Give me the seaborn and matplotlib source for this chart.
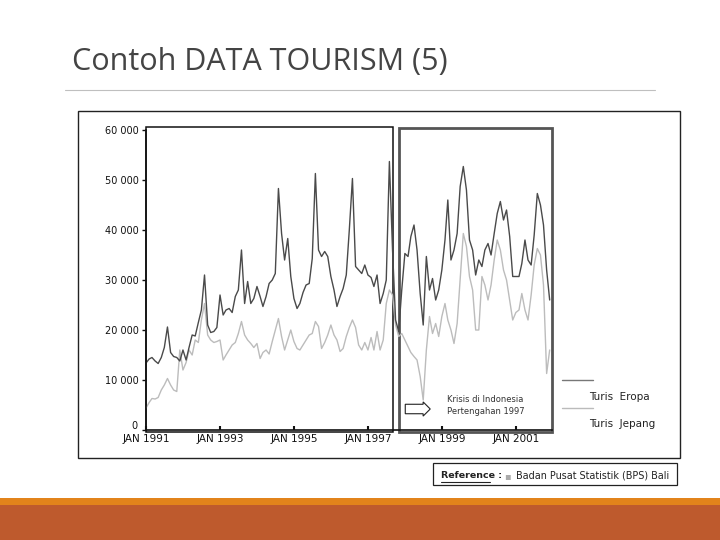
"""Slide: Contoh DATA TOURISM (5) - monthly tourist arrivals in Bali, Europe vs Japan."""
import numpy as np
import pandas as pd
import matplotlib.pyplot as plt
import matplotlib.transforms as mtransforms
from matplotlib.patches import Rectangle
from matplotlib.lines import Line2D
import seaborn as sns

# monthly values, Jan 1991 .. Dec 2001
eropa = [
    # 1991
    13400, 14200, 14500, 13800, 13300, 14500, 16500, 20600, 15500, 14700, 14500, 13800,
    # 1992
    16000, 14000, 16500, 19000, 18800, 21500, 24000, 31000, 21000, 19500, 19700, 20500,
    # 1993
    27000, 23000, 24000, 24300, 23500, 26700, 28000, 36000, 25300, 29700, 25300, 26300,
    # 1994
    28700, 26700, 24700, 26700, 29300, 30000, 31300, 48300, 39300, 34000, 38300, 30700,
    # 1995
    26300, 24300, 25300, 27500, 29000, 29300, 34300, 51300, 36000, 34700, 35700, 34700,
    # 1996
    30700, 28000, 24700, 26700, 28300, 31000, 40000, 50300, 32700, 32000, 31300, 33000,
    # 1997
    31000, 30500, 28700, 31000, 25300, 27300, 30000, 53700, 36000, 22000, 19700, 28000,
    # 1998
    35300, 34700, 38700, 41000, 36000, 27300, 21000, 34700, 28000, 30300, 26000, 28000,
    # 1999
    32000, 38000, 46000, 34000, 36000, 39300, 48700, 52700, 48000, 38000, 36000, 31000,
    # 2000
    34000, 32700, 36000, 37300, 35000, 39300, 43300, 45700, 42000, 44000, 38700, 30700,
    # 2001
    30700, 30700, 33300, 38000, 34000, 33000, 39000, 47300, 45000, 41000, 32000, 26000,
]
jepang = [
    # 1991
    4400, 5500, 6300, 6200, 6500, 8000, 9000, 10300, 9000, 8000, 7700, 16000,
    # 1992
    12000, 13500, 16000, 15000, 18000, 17500, 22000, 25300, 19000, 18000, 17500, 17700,
    # 1993
    18000, 14000, 15000, 16000, 17000, 17500, 19300, 21700, 19000, 18000, 17300, 16500,
    # 1994
    17300, 14300, 15500, 16000, 15200, 17700, 20000, 22300, 18700, 16000, 18000, 20000,
    # 1995
    17700, 16300, 16000, 17000, 18000, 19000, 19300, 21700, 20700, 16300, 17500, 19000,
    # 1996
    21000, 19000, 18000, 15700, 16300, 18700, 20500, 22000, 20500, 17000, 16000, 17500,
    # 1997
    16000, 18500, 16000, 19700, 16000, 18000, 25300, 28000, 27000, 21000, 18700, 19300,
    # 1998
    18000, 16700, 15500, 14700, 14000, 10700, 6000, 16000, 22700, 19300, 21300, 18700,
    # 1999
    22700, 25300, 22000, 20000, 17300, 21300, 30000, 39300, 36700, 30700, 28000, 20000,
    # 2000
    20000, 30700, 29000, 26000, 29000, 34000, 38000, 36000, 32000, 30000, 26000, 22000,
    # 2001
    23500, 24000, 27300, 24000, 22000, 27000, 33000, 36300, 35000, 29000, 11300, 16000,
]
series_names = ['Turis Eropa', 'Turis Jepang']
series_colors = ['#4a4a4a', '#bcbcbc']
y_ticks = [0, 10000, 20000, 30000, 40000, 50000, 60000]
x_tick_years = [1991, 1993, 1995, 1997, 1999, 2001]

months = pd.date_range('1991-01-01', periods=len(eropa), freq='MS')
df = pd.concat([
    pd.DataFrame({'bulan': months, 'turis': eropa, 'seri': series_names[0]}),
    pd.DataFrame({'bulan': months, 'turis': jepang, 'seri': series_names[1]}),
])

sns.set_style('white')
plt.rcParams['font.family'] = ['DejaVu Sans']

W, H = 720, 540
fig = plt.figure(figsize=(W / 100, H / 100), dpi=100)


def fx(px):
    return px / W


def fy(py):
    return 1 - py / H


# title + rule
fig.text(fx(72), fy(62), 'Contoh DATA TOURISM (5)', fontsize=22, color='#444444',
         family=['Open Sans', 'DejaVu Sans'], va='center', ha='left')
fig.add_artist(Line2D([fx(65), fx(655)], [fy(90), fy(90)], color='#bfbfbf', lw=0.8))

# frame of the pasted chart picture
fig.add_artist(Rectangle((fx(78), fy(458)), fx(680) - fx(78), fy(111) - fy(458),
                         fill=False, ec='#222222', lw=1.0, transform=fig.transFigure))

ax = fig.add_axes([fx(146), fy(430), fx(552) - fx(146), fy(130) - fy(430)])
sns.lineplot(data=df, x='bulan', y='turis', hue='seri', hue_order=series_names[::-1],
             palette=dict(zip(series_names, series_colors)), lw=1.0, legend=False, ax=ax)

ax.set_ylim(0, 60000)
ax.set_xlim(pd.Timestamp('1991-01-01'), pd.Timestamp('2001-12-24'))
ax.set_yticks(y_ticks)
ax.set_yticklabels([f'{v:,}'.replace(',', ' ') for v in y_ticks])
ax.set_xticks([pd.Timestamp(f'{y}-01-01') for y in x_tick_years])
ax.set_xticklabels([f'JAN {y}' for y in x_tick_years])
ax.set_xlabel('')
ax.set_ylabel('')
ax.tick_params(axis='y', direction='out', length=3, width=1, pad=2, labelsize=7, colors='#111111')
ax.tick_params(axis='x', direction='in', length=3, width=1.5, pad=3, labelsize=7.5, colors='#111111')
ax.tick_params(left=True, bottom=True)
# the "0" sits a little higher in the picture, clear of JAN 1991
zero_lbl = ax.get_yticklabels()[0]
zero_lbl.set_transform(zero_lbl.get_transform()
                       + mtransforms.ScaledTranslation(-2 / 100, 5 / 100, fig.dpi_scale_trans))
for side in ['top', 'right']:
    ax.spines[side].set_visible(False)
for side in ['left', 'bottom']:
    ax.spines[side].set_color('#111111')
    ax.spines[side].set_linewidth(1.2)

# the two period boxes (before / after the crisis)
ax.axvspan(pd.Timestamp('1990-12-28'), pd.Timestamp('1997-09-10'), ymin=-0.007, ymax=1.01,
           fill=False, ec='#111111', lw=1.1, clip_on=False)
ax.axvspan(pd.Timestamp('1997-11-01'), pd.Timestamp('2001-12-24'), ymin=-0.007, ymax=1.007,
           fill=False, ec='#555555', lw=2.0, clip_on=False)

# crisis note with hollow arrow
fig.text(fx(407), fy(409), '        ', fontsize=5,
         bbox=dict(boxstyle='rarrow,pad=0.25', fc='white', ec='#222222', lw=0.8), va='center')
fig.text(fx(447), fy(400), 'Krisis di Indonesia', fontsize=6, color='#333333', va='center')
fig.text(fx(447), fy(411), 'Pertengahan 1997', fontsize=6, color='#333333', va='center')

# legend as drawn in the picture
fig.add_artist(Line2D([fx(562), fx(593)], [fy(380), fy(380)], color='#777777', lw=1.0))
fig.text(fx(589), fy(397), 'Turis  Eropa', fontsize=7.5, color='#222222', va='center')
fig.add_artist(Line2D([fx(562), fx(593)], [fy(408), fy(408)], color='#bbbbbb', lw=1.0))
fig.text(fx(589), fy(424), 'Turis  Jepang', fontsize=7.5, color='#222222', va='center')

# reference box
fig.add_artist(Rectangle((fx(433), fy(485)), fx(677) - fx(433), fy(463) - fy(485),
                         fill=False, ec='#222222', lw=0.9, transform=fig.transFigure))
fig.text(fx(441), fy(476), 'Reference :', fontsize=6.8, weight='bold', color='#222222', va='center')
fig.add_artist(Line2D([fx(441), fx(490)], [fy(482), fy(482)], color='#222222', lw=0.8))
fig.text(fx(504), fy(476), '\u25aa', fontsize=7, color='#aaaaaa', va='center')
fig.text(fx(516), fy(476), 'Badan Pusat Statistik (BPS) Bali', fontsize=6.9, color='#222222',
         va='center')

# footer bars
fig.add_artist(Rectangle((0, fy(505)), 1, fy(498) - fy(505), fc='#e2831b', ec='none',
                         transform=fig.transFigure))
fig.add_artist(Rectangle((0, 0), 1, fy(505), fc='#be5a2d', ec='none',
                         transform=fig.transFigure))

fig.savefig('out.png', dpi=100)
